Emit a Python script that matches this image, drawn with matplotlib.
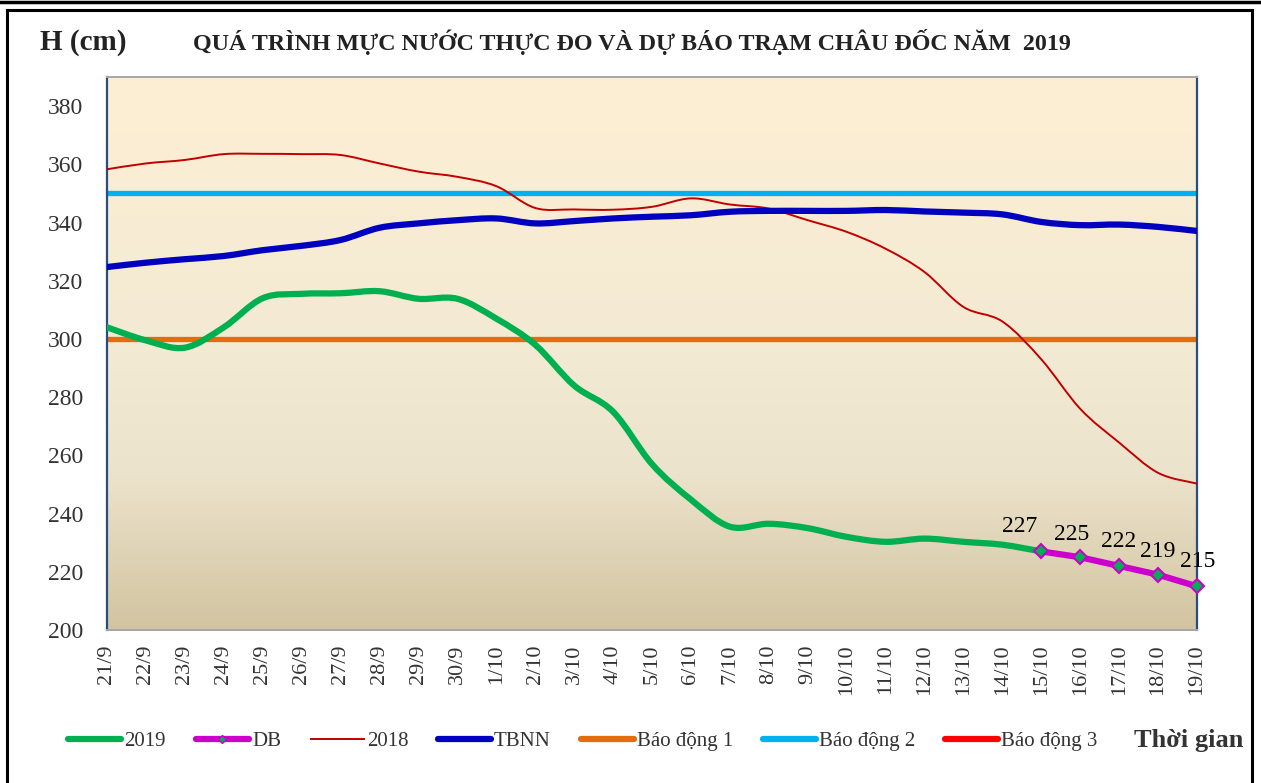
import numpy as np
import matplotlib
matplotlib.use("Agg")
from matplotlib import pyplot as plt
from matplotlib.path import Path
from matplotlib.patches import PathPatch, Rectangle
from matplotlib.lines import Line2D
from matplotlib.colors import LinearSegmentedColormap

plt.rcParams['font.family'] = ['Liberation Serif', 'DejaVu Serif']

# ngày
dates = ['21/9', '22/9', '23/9', '24/9', '25/9', '26/9', '27/9', '28/9', '29/9', '30/9',
         '1/10', '2/10', '3/10', '4/10', '5/10', '6/10', '7/10', '8/10', '9/10', '10/10',
         '11/10', '12/10', '13/10', '14/10', '15/10', '16/10', '17/10', '18/10', '19/10']

# mực nước thực đo 2019 (đến 15/10)
h2019 = [304, 299.5, 297, 304, 314, 315.5, 315.7, 316.4, 313.8, 313.8,
         307, 298, 284, 275, 257, 244.8, 235.5, 236.5, 235, 232,
         230.3, 231.4, 230.3, 229.3, 227]

# dự báo (15/10 - 19/10)
db_dates = ['15/10', '16/10', '17/10', '18/10', '19/10']
db = [227, 225, 222, 219, 215]

# năm 2018
h2018 = [358.3, 360.3, 361.5, 363.5, 363.6, 363.5, 363.2, 360.3, 357.5, 355.7,
         352.5, 345, 344.5, 344.4, 345.4, 348.3, 346.2, 344.8, 340.8, 336.8,
         331, 323, 311, 306, 293, 276, 264.4, 254, 250.3]

# trung bình nhiều năm
tbnn = [324.7, 326.2, 327.4, 328.5, 330.5, 332, 334, 338.2, 339.7, 340.8,
        341.4, 339.7, 340.5, 341.4, 342, 342.5, 343.7, 344, 344, 344,
        344.3, 343.8, 343.4, 342.8, 340.2, 339.1, 339.3, 338.5, 337.1]

# mức báo động
bd1 = 300
bd2 = 350
bd3 = 400


def smooth_path(xs, ys):
    # đường cong Bezier kiểu "smoothed line" của Excel
    pts = np.column_stack([xs, ys]).astype(float)
    n = len(pts)
    verts = [pts[0]]
    codes = [Path.MOVETO]
    for i in range(n - 1):
        p0 = pts[i - 1] if i > 0 else pts[i]
        p1 = pts[i]
        p2 = pts[i + 1]
        p3 = pts[i + 2] if i + 2 < n else pts[i + 1]
        c1 = p1 + (p2 - p0) / 6
        c2 = p2 - (p3 - p1) / 6
        verts += [c1, c2, p2]
        codes += [Path.CURVE4] * 3
    return Path(verts, codes)


fig = plt.figure(figsize=(12.61, 7.83), dpi=100)
ax = fig.add_axes([107 / 1261, 1 - 630 / 783, (1197 - 107) / 1261, (630 - 77) / 783])

x_all = np.arange(len(dates))
x2019 = x_all[:len(h2019)]
xdb = np.array([dates.index(d) for d in db_dates])

# nền gradient
cmap = LinearSegmentedColormap.from_list('bg', [(0, '#D2C4A0'), (0.28, '#ECE3CC'),
                                                (0.5, '#F3EAD4'), (1, '#FDEFD3')])
grad = np.linspace(0, 1, 256).reshape(-1, 1)
ax.imshow(grad, cmap=cmap, aspect='auto', origin='lower', extent=[0, 1, 0, 1],
          transform=ax.transAxes, zorder=0)

ax.axhline(bd1, color='#E46C0A', lw=3.8, zorder=2)
ax.axhline(bd2, color='#00B0F0', lw=3.8, zorder=2)
ax.axhline(bd3, color='#FF0000', lw=3.8, zorder=2)

ax.add_patch(PathPatch(smooth_path(x_all, h2018), fill=False, edgecolor='#C00000', lw=1.4, zorder=3))
ax.add_patch(PathPatch(smooth_path(x_all, tbnn), fill=False, edgecolor='#0000C0', lw=4.5,
                       capstyle='round', zorder=3))
ax.add_patch(PathPatch(smooth_path(x2019, h2019), fill=False, edgecolor='#00B050', lw=4.5,
                       capstyle='round', zorder=4))
ax.plot(xdb, db, color='#CC00CC', lw=4.5, marker='D', ms=7, mfc='#00B050', mec='#CC00CC',
        mew=1.5, zorder=5, clip_on=False)

offsets = [(-22, 25), (-9, 23), (-1, 24), (0, 23), (1, 25)]
for xi, v, off in zip(xdb, db, offsets):
    ax.annotate(str(v), (xi, v), xytext=off, textcoords='offset pixels',
                ha='center', va='center', fontsize=17, zorder=6)

ax.set_xlim(0, len(dates) - 1)
ax.set_ylim(200, 390)
ax.set_yticks(np.arange(200, 381, 20))
ax.set_xticks(x_all)
ax.set_xticklabels(dates, rotation=90, fontsize=16)
ax.tick_params(axis='y', labelsize=17, length=0, pad=17, colors='#333333')
ax.tick_params(axis='x', length=0, pad=10.5, colors='#333333')

for s in ['left', 'right']:
    ax.spines[s].set_color('#2B4C7E')
    ax.spines[s].set_linewidth(1.6)
for s in ['top', 'bottom']:
    ax.spines[s].set_color('#A6A6A6')
    ax.spines[s].set_linewidth(1.4)

# khung ngoài
fig.add_artist(Line2D([0, 1], [1 - 1.5 / 783, 1 - 1.5 / 783], color='black', lw=2.5))
fig.add_artist(Rectangle((7 / 1261, -0.05), (1252 - 7) / 1261, 1.05 - 10 / 783,
                         fill=False, edgecolor='black', lw=2.2, transform=fig.transFigure))

fig.text(40 / 1261, 1 - 42 / 783, 'H (cm)', fontsize=21, fontweight='bold',
         ha='left', va='center', color='#222222')
fig.text(193 / 1261, 1 - 42 / 783,
         'QUÁ TRÌNH MỰC NƯỚC THỰC ĐO VÀ DỰ BÁO TRẠM CHÂU ĐỐC NĂM  2019',
         fontsize=17.3, fontweight='bold', ha='left', va='center', color='#222222')

handles = [
    Line2D([], [], color='#00B050', lw=4.5, solid_capstyle='round'),
    Line2D([], [], color='#CC00CC', lw=4.5, marker='D', ms=4, mfc='#00B050', mec='#CC00CC',
           solid_capstyle='round'),
    Line2D([], [], color='#C00000', lw=1.4),
    Line2D([], [], color='#0000C0', lw=4.5, solid_capstyle='round'),
    Line2D([], [], color='#E46C0A', lw=4.5, solid_capstyle='round'),
    Line2D([], [], color='#00B0F0', lw=4.5, solid_capstyle='round'),
    Line2D([], [], color='#FF0000', lw=4.5, solid_capstyle='round'),
]
labels = ['2019', 'DB', '2018', 'TBNN', 'Báo động 1', 'Báo động 2', 'Báo động 3']
fig.legend(handles, labels, loc='center left', bbox_to_anchor=(60 / 1261, 1 - 741 / 783),
           ncol=7, frameon=False, fontsize=15, handlelength=2.55, handletextpad=0.15,
           columnspacing=1.42, labelcolor='#333333', borderaxespad=0)

fig.text(1243 / 1261, 1 - 741 / 783, 'Thời gian', fontsize=19, fontweight='bold',
         ha='right', va='center', color='#333333')

fig.savefig('out.png', dpi=100)
